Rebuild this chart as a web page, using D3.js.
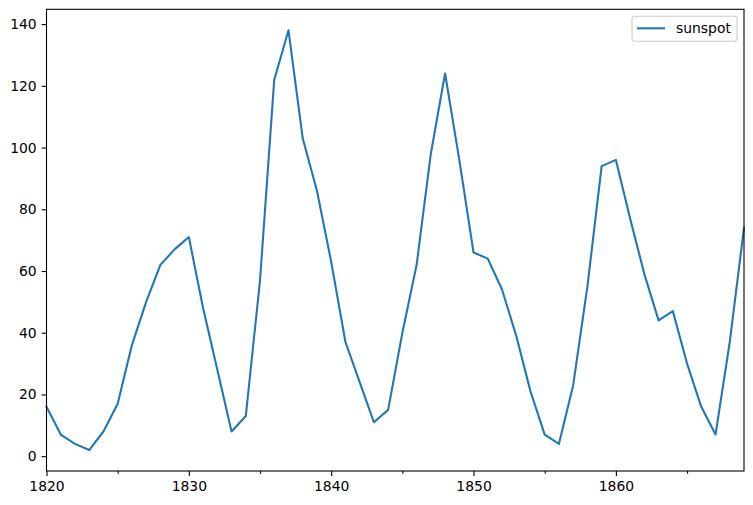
<!DOCTYPE html>
<html>
<head>
<meta charset="utf-8">
<script src="https://cdn.jsdelivr.net/npm/d3@7"></script>
<style>
    body { margin: 0; background: #fff; }
    #chart { width: 753px; height: 505px; }
    text { font-family: "DejaVu Sans", sans-serif; }
</style>
</head>
<body>
<div id="chart"></div>
<script>
var years = d3.range(1820, 1870);
var sunspot = [16, 7, 4, 2, 8, 17, 36, 50, 62, 67,
    71, 48, 28, 8, 13, 57, 122, 138, 103, 86,
    63, 37, 24, 11, 15, 40, 62, 98, 124, 96,
    66, 64, 54, 39, 21, 7, 4, 23, 55, 94,
    96, 77, 59, 44, 47, 30, 16, 7, 37, 74];
var xMajorTicks = [1820, 1830, 1840, 1850, 1860];
var xMinorTicks = [1825, 1835, 1845, 1855, 1865];
var yTicks = [0, 20, 40, 60, 80, 100, 120, 140];
var seriesName = "sunspot";

var width = 753, height = 505;
var padding = { left: 46.5, right: 9, top: 9.3, bottom: 34 };
var plotWidth = width - padding.left - padding.right;
var plotHeight = height - padding.top - padding.bottom;

var dataset = years.map(function (d, i) { return [d, sunspot[i]]; });

var yMin = d3.min(sunspot), yMax = d3.max(sunspot);
var yPad = (yMax - yMin) * 0.05;

var x_scale = d3.scaleLinear()
    .domain([1820, 1869])
    .range([0, plotWidth]);
var y_scale = d3.scaleLinear()
    .domain([yMin - yPad, yMax + yPad])
    .range([plotHeight, 0]);

var svg = d3.select("#chart")
    .append("svg")
    .attr("width", width)
    .attr("height", height);

var g = svg.append("g")
    .attr("transform", "translate(" + padding.left + "," + padding.top + ")");

var line = d3.line()
    .x(function (d) { return x_scale(d[0]); })
    .y(function (d) { return y_scale(d[1]); });

g.append("path")
    .datum(dataset)
    .attr("fill", "none")
    .attr("stroke", "#1f77b4")
    .attr("stroke-width", 2.08)
    .attr("stroke-linejoin", "round")
    .attr("stroke-linecap", "square")
    .attr("d", line);

// axes
var x_axis = d3.axisBottom(x_scale)
    .tickValues(xMajorTicks)
    .tickFormat(d3.format("d"))
    .tickSize(4.9)
    .tickPadding(4.9);
var x_minor = d3.axisBottom(x_scale)
    .tickValues(xMinorTicks)
    .tickFormat("")
    .tickSize(2.8);
var y_axis = d3.axisLeft(y_scale)
    .tickValues(yTicks)
    .tickSize(4.9)
    .tickPadding(4.9);

function styleAxis(sel) {
    sel.select(".domain").remove();
    sel.selectAll("line").attr("stroke", "#000").attr("stroke-width", 1.1);
    sel.selectAll("text").attr("fill", "#000").attr("font-size", "13.9px")
        .attr("font-family", "DejaVu Sans, sans-serif");
}

g.append("g")
    .attr("transform", "translate(0," + plotHeight + ")")
    .call(x_axis)
    .call(styleAxis);
g.append("g")
    .attr("transform", "translate(0," + plotHeight + ")")
    .call(x_minor)
    .call(styleAxis);
g.append("g")
    .call(y_axis)
    .call(styleAxis);

// frame
g.append("rect")
    .attr("width", plotWidth)
    .attr("height", plotHeight)
    .attr("fill", "none")
    .attr("stroke", "#000")
    .attr("stroke-width", 1.1);

// legend
var legend = g.append("g")
    .attr("transform", "translate(" + (plotWidth - 112) + ",7)");
legend.append("rect")
    .attr("width", 105)
    .attr("height", 25)
    .attr("rx", 3)
    .attr("fill", "#fff")
    .attr("fill-opacity", 0.8)
    .attr("stroke", "#ccc")
    .attr("stroke-width", 1.1);
legend.append("line")
    .attr("x1", 5).attr("x2", 33)
    .attr("y1", 12).attr("y2", 12)
    .attr("stroke", "#1f77b4")
    .attr("stroke-width", 2.08);
legend.append("text")
    .attr("x", 44)
    .attr("y", 12)
    .attr("dy", "0.35em")
    .attr("font-size", "13.9px")
    .attr("fill", "#000")
    .text(seriesName);
</script>
</body>
</html>
